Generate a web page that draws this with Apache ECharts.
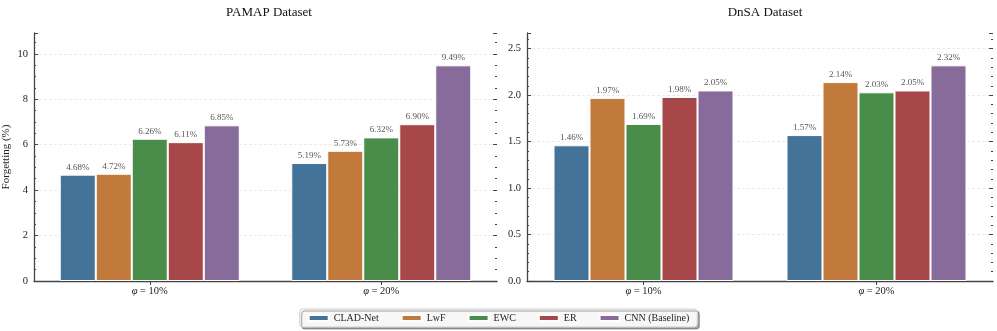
<!DOCTYPE html>
<html>
<head>
<meta charset="utf-8">
<style>
  html, body { margin: 0; padding: 0; background: #fff; }
  #chart { width: 997px; height: 331px; }
</style>
<script src="https://cdn.jsdelivr.net/npm/echarts@6/dist/echarts.min.js"></script>
</head>
<body>
<div id="chart"></div>
<script>
var categories = ['φ = 10%', 'φ = 20%'];
var methods = ['CLAD-Net', 'LwF', 'EWC', 'ER', 'CNN (Baseline)'];
// one row per method: [φ=10%, φ=20%]
var pamapValues = [[4.68, 5.19], [4.72, 5.73], [6.26, 6.32], [6.11, 6.90], [6.85, 9.49]];
var dnsaValues = [[1.46, 1.57], [1.97, 2.14], [1.69, 2.03], [1.98, 2.05], [2.05, 2.32]];
var pamapTickStep = 2;
var dnsaTickStep = 0.5;
var titles = ['PAMAP Dataset', 'DnSA Dataset'];
var yName = 'Forgetting (%)';

var colors = ['#44739a', '#c17a3b', '#4a8c4a', '#a84749', '#866b9b'];
var font = '"Liberation Serif", "DejaVu Serif", serif';
var axisColor = '#444';

function maxOf(rows) {
  var m = 0;
  for (var i = 0; i < rows.length; i++) {
    for (var j = 0; j < rows[i].length; j++) {
      if (rows[i][j] > m) m = rows[i][j];
    }
  }
  return m;
}

/* x axes: bottom (with line + labels) and top (ticks only) */
function makeX(grid, top) {
  return {
    type: 'category',
    gridIndex: grid,
    position: top ? 'top' : 'bottom',
    data: categories,
    axisLine: { show: !top, lineStyle: { color: axisColor, width: 1.3 } },
    axisTick: { show: true, inside: true, alignWithLabel: true, length: 4, lineStyle: { color: axisColor } },
    axisLabel: {
      show: !top, color: '#222', fontFamily: font, fontSize: 10.5, margin: 5,
      // italic phi like the mathtext label
      formatter: function (v) {
        return '{i|' + v.charAt(0) + '}' + v.slice(1);
      },
      rich: { i: { fontStyle: 'italic', fontFamily: font, fontSize: 10.5, color: '#222' } }
    },
    splitLine: { show: false }
  };
}

/* y axes: left (line, labels, grid lines) and right (ticks only) */
function makeY(grid, right, max, step, minorSplit, digits, name) {
  return {
    type: 'value',
    gridIndex: grid,
    position: right ? 'right' : 'left',
    min: 0,
    max: max,
    interval: step,
    name: right ? '' : name,
    nameLocation: 'middle',
    nameGap: 22,
    nameTextStyle: { fontFamily: font, fontSize: 11, color: '#222' },
    axisLine: { show: !right, lineStyle: { color: axisColor, width: 1.3 } },
    axisTick: { show: true, inside: true, length: 4, lineStyle: { color: axisColor } },
    minorTick: { show: true, splitNumber: minorSplit, length: 2, lineStyle: { color: axisColor } },
    axisLabel: {
      show: !right, color: '#222', fontFamily: font, fontSize: 10.5, margin: 6,
      showMaxLabel: false,
      formatter: function (v) { return v.toFixed(digits); }
    },
    splitLine: {
      show: !right, showMaxLine: false,
      lineStyle: { color: '#e6e6e6', type: [3, 2], width: 0.8 }
    }
  };
}

function makeSeries(rows, xi, yi) {
  var out = [];
  for (var i = 0; i < methods.length; i++) {
    out.push({
      name: methods[i],
      type: 'bar',
      xAxisIndex: xi,
      yAxisIndex: yi,
      data: rows[i],
      barWidth: 36,
      barGap: '0%',
      itemStyle: { color: colors[i], borderColor: '#fff', borderWidth: 1 },
      label: {
        show: true,
        position: 'top',
        distance: 3,
        fontFamily: font,
        fontSize: 9,
        color: '#555',
        formatter: function (p) { return p.value.toFixed(2) + '%'; }
      }
    });
  }
  return out;
}

var pamapMax = maxOf(pamapValues) * 1.15;
var dnsaMax = maxOf(dnsaValues) * 1.15;

var chart = echarts.init(document.getElementById('chart'));
var option = {
  backgroundColor: '#fff',
  animation: false,
  textStyle: { fontFamily: font },
  title: [
    { text: titles[0], left: 264, top: 1, textAlign: 'center',
      textStyle: { fontFamily: font, fontSize: 13, fontWeight: 'normal', color: '#111' } },
    { text: titles[1], left: 760, top: 1, textAlign: 'center',
      textStyle: { fontFamily: font, fontSize: 13, fontWeight: 'normal', color: '#111' } }
  ],
  legend: {
    data: methods,
    left: 'center',
    top: 309,
    icon: 'rect',
    itemWidth: 20,
    itemHeight: 6,
    itemGap: 22,
    padding: [4, 8],
    backgroundColor: '#f7f7f7',
    borderColor: '#cfcfcf',
    borderWidth: 1,
    borderRadius: 3,
    shadowColor: 'rgba(0,0,0,0.35)',
    shadowBlur: 0,
    shadowOffsetX: 2,
    shadowOffsetY: 2,
    textStyle: { fontFamily: font, fontSize: 10, color: '#222' }
  },
  grid: [
    { left: 32, top: 33, width: 465, height: 248 },
    { left: 527, top: 33, width: 466, height: 248 }
  ],
  xAxis: [makeX(0, false), makeX(0, true), makeX(1, false), makeX(1, true)],
  yAxis: [
    makeY(0, false, pamapMax, pamapTickStep, 4, 0, yName),
    makeY(0, true, pamapMax, pamapTickStep, 4, 0, ''),
    makeY(1, false, dnsaMax, dnsaTickStep, 5, 1, ''),
    makeY(1, true, dnsaMax, dnsaTickStep, 5, 1, '')
  ],
  series: makeSeries(pamapValues, 0, 0).concat(makeSeries(dnsaValues, 2, 2))
};
chart.setOption(option);
</script>
</body>
</html>
